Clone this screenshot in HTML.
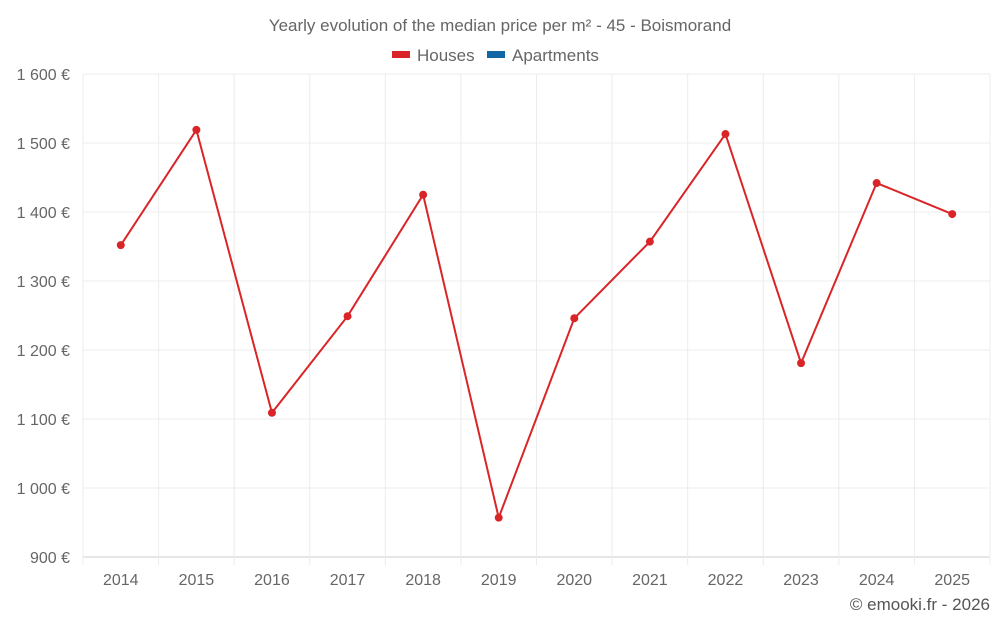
<!DOCTYPE html>
<html><head><meta charset="utf-8"><style>
html,body{margin:0;padding:0;background:#fff;}
svg{display:block;font-family:"Liberation Sans",sans-serif;}
</style></head><body>
<svg id="chart" width="1000" height="625">
<text x="500" y="31" text-anchor="middle" font-size="17" fill="#666">Yearly evolution of the median price per m² - 45 - Boismorand</text>
<g>
<rect x="392" y="51" width="18" height="7" fill="#d92528"/>
<text x="417" y="61" font-size="17" fill="#666">Houses</text>
<rect x="487" y="51" width="18" height="7" fill="#0f67a4"/>
<text x="512" y="61" font-size="17" fill="#666">Apartments</text>
</g>
<g id="grid"></g><g id="axes"></g><g id="series"></g>
<text x="990" y="610" text-anchor="end" font-size="17" fill="#555">© emooki.fr - 2026</text>
</svg>
<script>
const categories=["2014","2015","2016","2017","2018","2019","2020","2021","2022","2023","2024","2025"];
const housesValues=[1352,1519,1109,1249,1425,957,1246,1357,1513,1181,1442,1397];
const yTicks=[900,1000,1100,1200,1300,1400,1500,1600];
const yTickLabels=["900 €","1 000 €","1 100 €","1 200 €","1 300 €","1 400 €","1 500 €","1 600 €"];
const NS="http://www.w3.org/2000/svg";
const L=83,R=990,T=74,B=557,yMin=900,yMax=1600;
const bw=(R-L)/categories.length;
function xPos(i){return L+bw*(i+0.5);}
function yPos(v){return B-(v-yMin)/(yMax-yMin)*(B-T);}
function mk(tag,attrs,parent){const e=document.createElementNS(NS,tag);for(const k in attrs)e.setAttribute(k,attrs[k]);parent.appendChild(e);return e;}
const grid=document.getElementById('grid'),axes=document.getElementById('axes'),series=document.getElementById('series');
yTicks.forEach((t,i)=>{
 const y=yPos(t);
 const gl=mk('line',{x1:L,x2:R,y1:y,y2:y,stroke:i==0?'#ccc':'#ececec','stroke-width':1},grid);
 
 
 const tx=mk('text',{x:70,y:y+6,'text-anchor':'end','font-size':16,fill:'#666'},axes);
 tx.textContent=yTickLabels[i];
 
 
});
for(let i=0;i<=categories.length;i++){
 const x=L+bw*i;
 const vl=mk('line',{x1:x,x2:x,y1:T,y2:B+8,stroke:'#ececec','stroke-width':1},grid);
 
 
}
categories.forEach((c,i)=>{
 const tx=mk('text',{x:xPos(i),y:585,'text-anchor':'middle','font-size':16,fill:'#666'},axes);
 tx.textContent=c;
 
 
});
const pts=housesValues.map((v,i)=>xPos(i)+','+yPos(v)).join(' ');
const pl=mk('polyline',{points:pts,fill:'none',stroke:'#d92528','stroke-width':2},series);


housesValues.forEach((v,i)=>{
 const c=mk('circle',{cx:xPos(i),cy:yPos(v),r:4,fill:'#d92528'},series);
 
 
});
</script>
</body></html>
